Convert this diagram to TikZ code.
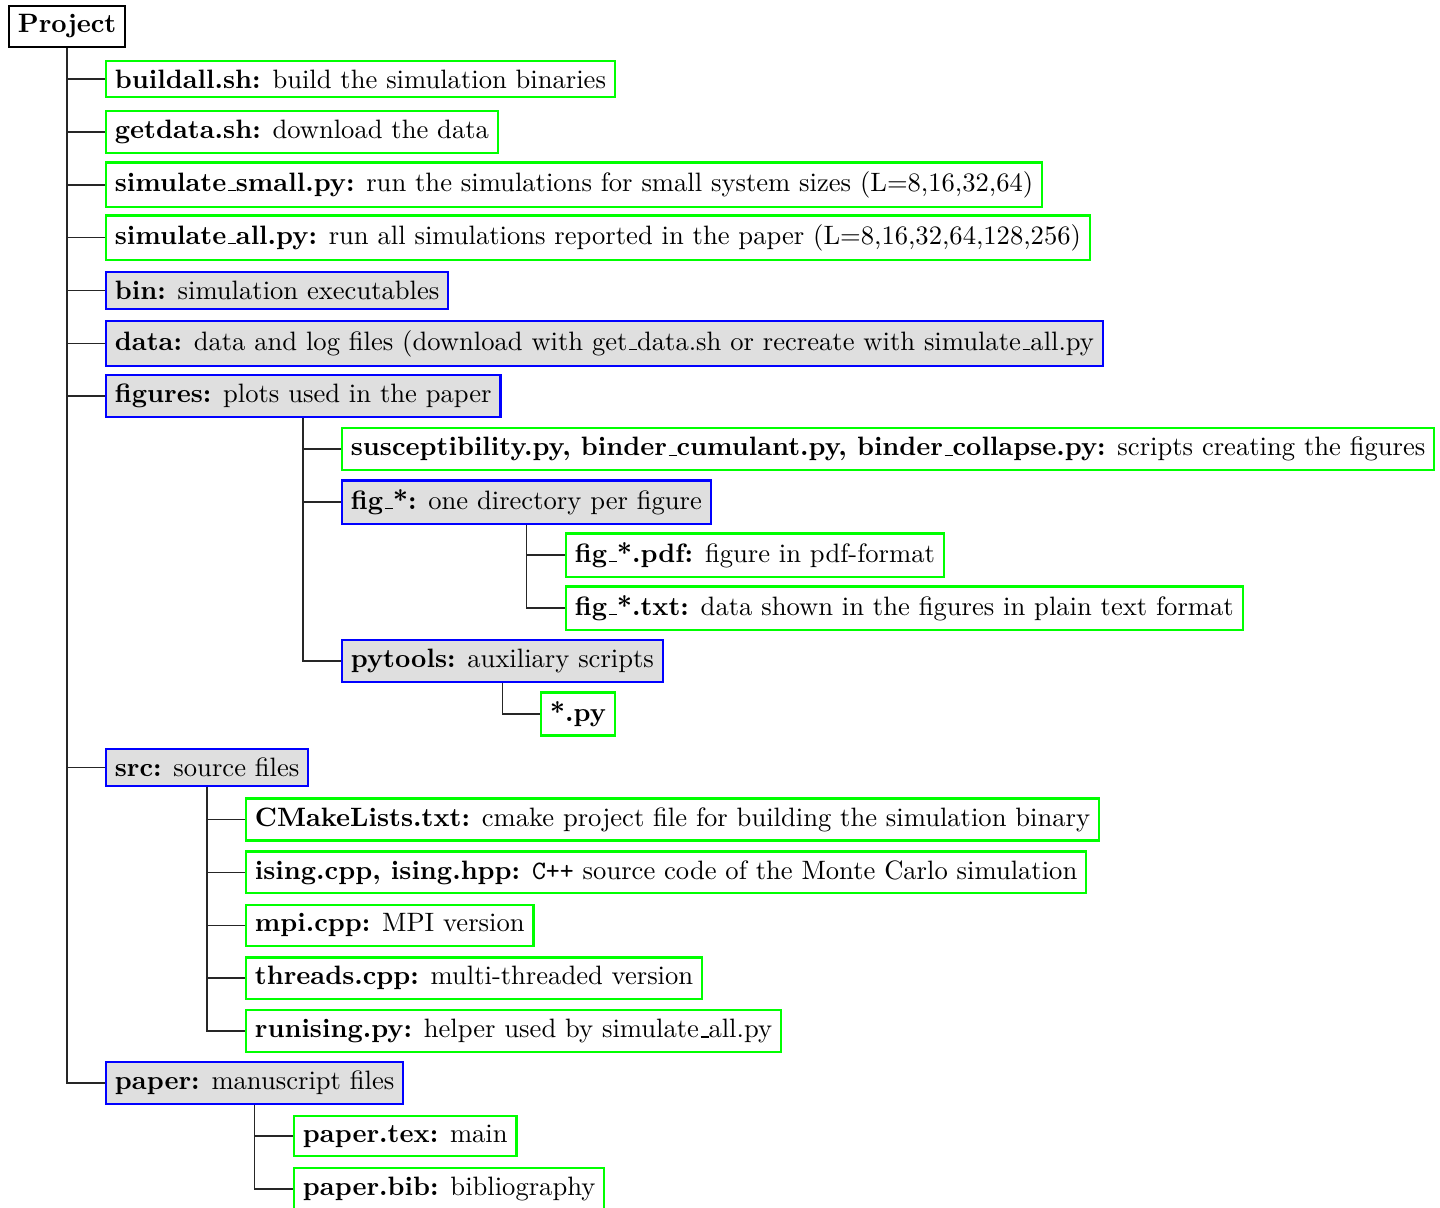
\documentclass[tikz,border=0pt]{standalone}
\usepackage{xcolor}
\usepackage{tikz}
\usetikzlibrary{positioning}

% short low underscore, as in the old OT1 fonts
\renewcommand{\_}{\leavevmode\kern.06em\vbox{\hrule width.3em}}

\tikzset{
  rootbox/.style={draw=black,thick,anchor=west,font=\bfseries},
  filebox/.style={draw=green,thick,anchor=west},
  dirbox/.style={draw=blue,thick,fill=gray!25,anchor=west},
  branch/.style={line width=0.6pt,black!85}
}

\begin{document}
\begin{tikzpicture}[x=0.3761pt,y=-0.3761pt]
  \useasboundingbox (0,0) rectangle (1440,1207);

  % top level
  \node[rootbox] (proj) at (8,26.5) {Project};
  \node[filebox] (build) at (105,79) {\textbf{buildall.sh:} build the simulation binaries};
  \node[filebox] (getdata) at (105,131.8) {\textbf{getdata.sh:} download the data};
  \node[filebox] (simsmall) at (105,184.7) {\textbf{simulate\_small.py:} run the simulations for small system sizes (L=8,16,32,64)};
  \node[filebox] (simall) at (105,237.6) {\textbf{simulate\_all.py:} run all simulations reported in the paper (L=8,16,32,64,128,256)};
  \node[dirbox] (bin) at (105,290.5) {\textbf{bin:} simulation executables};
  \node[dirbox] (data) at (105,343.4) {\textbf{data:} data and log files (download with get\_data.sh or recreate with simulate\_all.py};
  \node[dirbox] (figures) at (105,396.2) {\textbf{figures:} plots used in the paper};
  \node[dirbox] (src) at (105,767.5) {\textbf{src:} source files};
  \node[dirbox] (paper) at (105,1083) {\textbf{paper:} manuscript files};

  % figures
  \node[filebox] (scripts) at (341,449) {\textbf{susceptibility.py, binder\_cumulant.py, binder\_collapse.py:} scripts creating the figures};
  \node[dirbox] (figdir) at (341,502) {\textbf{fig\_*:} one directory per figure};
  \node[filebox] (figpdf) at (565,555) {\textbf{fig\_*.pdf:} figure in pdf-format};
  \node[filebox] (figtxt) at (565,608) {\textbf{fig\_*.txt:} data shown in the figures in plain text format};
  \node[dirbox] (pytools) at (341,661) {\textbf{pytools:} auxiliary scripts};
  \node[filebox] (pyfiles) at (540,714) {\textbf{*.py}};

  % src
  \node[filebox] (cmake) at (245,819.5) {\textbf{CMakeLists.txt:} cmake project file for building the simulation binary};
  \node[filebox] (ising) at (245,872.4) {\textbf{ising.cpp, ising.hpp:} \texttt{C++} source code of the Monte Carlo simulation};
  \node[filebox] (mpi) at (245,925.3) {\textbf{mpi.cpp:} MPI version};
  \node[filebox] (threads) at (245,978.1) {\textbf{threads.cpp:} multi-threaded version};
  \node[filebox] (runising) at (245,1031) {\textbf{runising.py:} helper used by simulate\_all.py};

  % paper
  \node[filebox] (ptex) at (293,1136) {\textbf{paper.tex:} main};
  \node[filebox] (pbib) at (293,1189) {\textbf{paper.bib:} bibliography};

  % connectors
  \foreach \c in {build,getdata,simsmall,simall,bin,data,figures,src,paper}
    \draw[branch] (proj.south) |- (\c.west);
  \foreach \c in {scripts,figdir,pytools}
    \draw[branch] (figures.south) |- (\c.west);
  \foreach \c in {figpdf,figtxt}
    \draw[branch] (figdir.south) |- (\c.west);
  \draw[branch] (pytools.south) |- (pyfiles.west);
  \foreach \c in {cmake,ising,mpi,threads,runising}
    \draw[branch] (src.south) |- (\c.west);
  \foreach \c in {ptex,pbib}
    \draw[branch] (paper.south) |- (\c.west);
\end{tikzpicture}
\end{document}
